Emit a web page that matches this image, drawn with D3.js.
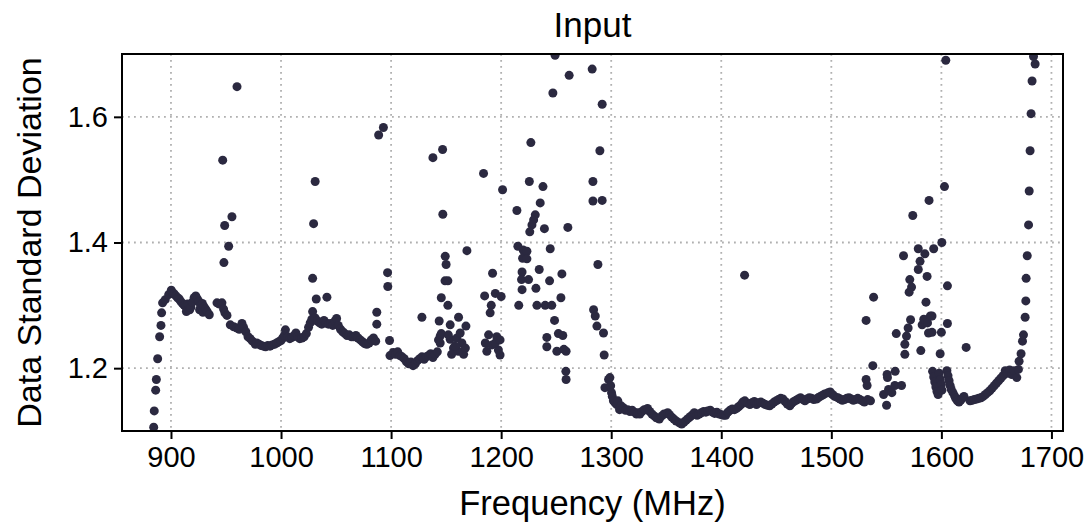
<!DOCTYPE html>
<html>
<head>
<meta charset="utf-8">
<script src="https://cdn.jsdelivr.net/npm/d3@7"></script>
<style>
  body { margin: 0; background: #fff; }
  text { font-family: "Liberation Sans", Arial, sans-serif; fill: #000; }
</style>
</head>
<body>
<script>
// [frequency MHz, data std], grouped by band
const edgeRise = [[884.3,1.106],[884.8,1.132],[886.1,1.165],[886.7,1.182],[887.9,1.215],[889.7,1.25],[890.9,1.268],[891.5,1.288],[892.4,1.304],[894.8,1.309],[897.9,1.317],[900.3,1.324]];

const plateau900 = [[901.5,1.32],[903,1.318],[904.5,1.315],[906,1.312],[907.5,1.31],[909,1.306],[910.5,1.303],[912,1.3],[913.5,1.298],[914,1.29],[915,1.302],[916.5,1.3],[917,1.293],[918,1.297],[919.5,1.305],[921,1.312],[922.5,1.315],[924,1.31],[925.5,1.306],[926,1.293],[927,1.3],[928.5,1.303],[929,1.289],[930,1.298],[931.5,1.294],[933,1.29],[934.8,1.285],
  [941.8,1.304],[944,1.302],[946.3,1.304],[947.8,1.294],[949,1.288],[950.9,1.284],[953.9,1.269],[957,1.266],[960,1.264],[962,1.262],[964.5,1.271],[966,1.265],[968,1.258],[970,1.25],[972,1.247],[974,1.243],[976.6,1.238]];

const trough1000 = [[978,1.24],[980,1.238],[982,1.236],[984,1.235],[986,1.234],[988,1.236],[990,1.235],[992,1.237],[994,1.238],[996,1.24],[998,1.242],[1000,1.244],[1001.5,1.248],[1003,1.252],[1004,1.261],[1006,1.25],[1008,1.247],[1010,1.249],[1012,1.252],[1013.5,1.256],[1015,1.25],[1017,1.247],[1019,1.248],[1021,1.25],[1023,1.255],[1025,1.265],[1026.5,1.272],[1028,1.278]];

const bump1030 = [[1028.7,1.29],[1031,1.28],[1033,1.275],[1035,1.272],[1037,1.27],[1039,1.276],[1041,1.272],[1043,1.27],[1045,1.271],[1047,1.268],[1049,1.275],[1050.5,1.279],[1052,1.268],[1054,1.262],[1056,1.258],[1058,1.255],[1060,1.252],[1062,1.253],[1064,1.25],[1066,1.25],[1068,1.252],[1070,1.248],[1072,1.245],[1074,1.242],[1076,1.239],[1078,1.238],[1080,1.24],[1082,1.245],[1084,1.248],[1086,1.243]];

const spikesLow = [[960,1.648],[947,1.531],[948.8,1.427],[955.4,1.441],[952.4,1.394],[948.1,1.368],[1031,1.497],[1029.6,1.43],[1028.7,1.343],[1032,1.31],[1041.7,1.313],[1087,1.289],[1087,1.27],[1088.7,1.571],[1093,1.583],[1096.8,1.352],[1097,1.33],[1098.6,1.244],[1099,1.22]];

const dip1120 = [[1102,1.225],[1104,1.222],[1106,1.226],[1108,1.22],[1110,1.218],[1112,1.215],[1114,1.21],[1116,1.207],[1118,1.21],[1120,1.204],[1122,1.207],[1124,1.212],[1126,1.215],[1128,1.218],[1130,1.214],[1132,1.218],[1134,1.22],[1136,1.223],[1138,1.217],[1140,1.222],[1142,1.226],[1128,1.281]];

const rfi1150 = [[1138,1.535],[1146.8,1.548],[1147,1.445],[1149.2,1.378],[1150,1.365],[1149,1.339],[1151.6,1.339],[1145.6,1.312],[1151.6,1.3],[1143.7,1.275],[1144.6,1.251],[1143.1,1.245],[1145.6,1.255],[1144.6,1.24],[1153.7,1.269],[1161.3,1.281],[1168.9,1.387],[1168,1.267],[1153.7,1.246],[1156.7,1.232],[1159.8,1.248],[1162.8,1.256],[1164.3,1.24],[1165.9,1.222],[1155,1.222],[1161,1.227],[1158,1.235],[1152,1.253],[1167.5,1.232]];

const rfi1190 = [[1184,1.51],[1185,1.315],[1192.2,1.351],[1194.7,1.319],[1200,1.314],[1191,1.3],[1190,1.288],[1201.3,1.484],[1185.6,1.24],[1187,1.227],[1188.6,1.253],[1191.7,1.237],[1196,1.25],[1197.5,1.229],[1199,1.221],[1194.7,1.24],[1199,1.245]];

const rfi1240 = [[1214.3,1.451],[1215.2,1.394],[1220,1.388],[1219.5,1.375],[1219,1.353],[1218.5,1.341],[1219,1.325],[1216,1.3],[1249,1.698],[1247,1.638],[1261.8,1.666],[1282.7,1.676],[1291.8,1.62],[1227,1.559],[1289.7,1.546],[1225.6,1.497],[1238,1.489],[1283.4,1.497],[1283.4,1.466],[1291.8,1.467],[1235.5,1.463],[1231,1.444],[1229.5,1.436],[1228,1.428],[1226,1.417],[1239.3,1.422],[1260.6,1.424],[1223.4,1.386],[1223.4,1.374],[1244.6,1.39],[1287.9,1.365],[1234.6,1.357],[1255.2,1.35],[1224.9,1.341],[1244,1.339],[1231.6,1.327],[1254.3,1.312],[1232.5,1.3],[1240,1.3],[1246,1.3],[1284,1.293],[1285.5,1.283],[1287,1.267],[1293,1.256],[1248.5,1.276],[1252,1.255],[1256,1.252],[1241.5,1.249],[1241.5,1.234],[1250.6,1.227],[1259,1.227],[1257,1.23],[1293.6,1.221],[1258.8,1.195],[1259,1.182]];

const floor1400 = [[1297.6,1.182],[1294.3,1.169],[1298.8,1.185],[1299.5,1.172],[1300.3,1.161],[1301,1.155],[1302,1.148],[1303.5,1.145],[1305,1.142],[1306,1.148],[1307.6,1.134],[1309,1.14],[1311,1.137],[1313,1.133],[1315,1.134],[1317,1.131],[1319,1.133],[1321,1.13],[1323,1.127],[1324,1.129],[1326,1.127],[1328,1.131],[1330,1.134],[1333,1.136],[1335,1.131],[1337,1.127],[1339,1.124],[1341,1.121],[1343.7,1.119],[1346,1.124],[1348,1.127],[1351.3,1.129],[1353,1.126],[1355,1.122],[1357,1.119],[1359,1.116],[1361.9,1.113],[1364,1.111],[1366,1.114],[1368,1.117],[1370,1.12],[1372,1.123],[1374,1.126],[1375.5,1.129],[1378,1.125],[1380,1.127],[1382,1.129],[1384,1.131],[1386,1.13],[1387.6,1.132],[1390,1.133],[1392,1.13],[1394,1.128],[1396,1.13],[1398.2,1.127],[1400,1.126],[1402,1.125],[1404,1.125],[1406,1.13],[1408,1.133],[1410,1.135],[1412,1.134],[1414,1.136],[1416,1.139],[1418,1.142],[1419.5,1.146],[1421.4,1.148],[1424,1.144],[1426,1.142],[1428,1.145],[1430,1.147],[1432,1.142],[1434,1.145],[1436,1.146],[1438,1.144],[1440,1.142],[1442,1.141],[1444,1.14],[1446,1.143],[1448,1.146],[1450,1.148],[1452,1.15],[1454,1.152],[1456,1.151],[1458,1.147],[1460,1.143],[1462.3,1.14],[1464,1.144],[1466,1.147],[1468,1.149],[1470,1.151],[1472,1.153],[1474.4,1.15],[1476,1.148],[1478,1.151],[1480,1.153],[1482,1.152],[1484,1.15],[1486.5,1.151],[1488,1.153],[1490,1.155],[1492,1.157],[1494,1.159],[1497,1.161],[1499,1.162],[1501,1.158],[1503,1.155],[1506,1.153],[1508,1.151],[1510,1.149],[1512,1.15],[1514,1.152],[1516,1.153],[1518,1.151],[1520,1.149],[1522,1.15],[1524,1.152],[1526,1.15],[1528,1.148],[1530,1.146],[1533,1.15],[1421.2,1.348]];

const rfi1570 = [[1531.6,1.182],[1532.5,1.1725],[1535.6,1.148],[1537.7,1.204],[1531.6,1.276],[1538.4,1.313],[1550.2,1.141],[1547.5,1.158],[1552,1.166],[1555,1.161],[1557.7,1.1725],[1563.8,1.1725],[1550.7,1.19],[1551,1.185],[1558,1.195],[1559,1.255],[1566.8,1.238],[1566.8,1.222],[1568.3,1.251],[1569.8,1.264],[1572,1.277],[1581.3,1.228],[1565.6,1.379],[1574,1.443],[1588.8,1.467],[1571.3,1.341],[1572.9,1.329],[1570.7,1.321],[1579,1.357],[1580.6,1.37],[1579,1.39],[1585,1.382],[1587,1.346],[1593,1.39],[1586,1.305],[1582.5,1.269],[1584,1.278],[1587.4,1.272],[1588.3,1.256],[1590,1.283],[1604,1.69],[1602.8,1.489],[1600.4,1.4],[1605.5,1.331],[1605.5,1.271],[1600,1.257],[1598.9,1.223],[1622.5,1.233],[1591.5,1.283],[1591.5,1.257]];

const notch1610 = [[1592,1.195],[1593,1.186],[1594,1.178],[1595,1.17],[1596,1.163],[1597,1.158],[1598,1.192],[1599,1.182],[1600,1.174],[1600.5,1.165],[1605,1.196],[1606,1.188],[1607,1.18],[1608,1.172],[1609,1.166],[1610.5,1.161],[1612,1.156],[1613,1.152],[1614.5,1.148],[1616,1.146],[1617.5,1.149],[1619,1.152],[1620.5,1.155]];

const rise1680 = [[1626,1.148],[1628,1.149],[1630,1.15],[1632,1.151],[1634,1.152],[1636,1.153],[1638,1.155],[1640,1.158],[1642,1.161],[1644,1.164],[1646,1.168],[1648,1.172],[1650,1.176],[1652,1.18],[1654,1.184],[1656,1.188],[1658,1.196],[1660,1.192],[1662,1.197],[1664,1.19],[1666,1.196],[1668.5,1.185],[1670,1.198],[1670.6,1.211],[1672.4,1.223],[1673.7,1.243],[1674.6,1.253],[1676.1,1.281],[1676.7,1.307],[1677,1.343],[1678,1.379],[1679.2,1.428],[1679.8,1.482],[1680.6,1.546],[1681.5,1.605],[1682.4,1.657],[1685.2,1.684],[1683.7,1.696]];

const xTicks = [900, 1000, 1100, 1200, 1300, 1400, 1500, 1600, 1700];
const yTicks = [1.2, 1.4, 1.6];

const points = [].concat(edgeRise, plateau900, trough1000, bump1030, spikesLow, dip1120,
  rfi1150, rfi1190, rfi1240, floor1400, rfi1570, notch1610, rise1680);

const W = 1089, H = 528;
const plotL = 122, plotR = 1063, plotT = 54, plotB = 431;

const svg = d3.select('body').append('svg')
  .attr('width', W)
  .attr('height', H);

const x = d3.scaleLinear().domain([855.5, 1710.5]).range([plotL, plotR]);
const y = d3.scaleLinear().domain([1.1, 1.7]).range([plotB, plotT]);

svg.append('defs').append('clipPath').attr('id', 'plotclip')
  .append('rect')
  .attr('x', plotL).attr('y', plotT)
  .attr('width', plotR - plotL).attr('height', plotB - plotT);

// dotted grid
const grid = svg.append('g')
  .attr('stroke', '#b0b0b0')
  .attr('stroke-width', 1.8)
  .attr('stroke-dasharray', '1.8,4.2');
grid.selectAll('line.vx')
  .data(xTicks)
  .enter().append('line')
  .attr('x1', d => x(d)).attr('x2', d => x(d))
  .attr('y1', plotT).attr('y2', plotB);
grid.selectAll('line.hy')
  .data(yTicks)
  .enter().append('line')
  .attr('x1', plotL).attr('x2', plotR)
  .attr('y1', d => y(d)).attr('y2', d => y(d));

// scatter
svg.append('g')
  .attr('clip-path', 'url(#plotclip)')
  .selectAll('circle')
  .data(points)
  .enter().append('circle')
  .attr('cx', d => x(d[0]))
  .attr('cy', d => y(d[1]))
  .attr('r', 4.5)
  .attr('fill', '#2b2940');

// axes
const xAxis = svg.append('g')
  .attr('transform', 'translate(0,' + plotB + ')')
  .call(d3.axisBottom(x).tickValues(xTicks).tickSize(8).tickPadding(7).tickFormat(d3.format('d')));
const yAxis = svg.append('g')
  .attr('transform', 'translate(' + plotL + ',0)')
  .call(d3.axisLeft(y).tickValues(yTicks).tickSize(8).tickPadding(6).tickFormat(d3.format('.1f')));

[xAxis, yAxis].forEach(a => {
  a.select('.domain').remove();
  a.selectAll('.tick line').attr('stroke', '#000').attr('stroke-width', 2);
  a.selectAll('.tick text')
    .attr('font-size', 29)
    .attr('font-family', '"Liberation Sans", Arial, sans-serif')
    .attr('fill', '#000');
});

// frame
svg.append('rect')
  .attr('x', plotL).attr('y', plotT)
  .attr('width', plotR - plotL).attr('height', plotB - plotT)
  .attr('fill', 'none')
  .attr('stroke', '#000')
  .attr('stroke-width', 2);

svg.append('text')
  .attr('x', (plotL + plotR) / 2).attr('y', 37)
  .attr('text-anchor', 'middle')
  .attr('font-size', 35)
  .text('Input');

svg.append('text')
  .attr('x', (plotL + plotR) / 2).attr('y', 515)
  .attr('text-anchor', 'middle')
  .attr('font-size', 34.5)
  .text('Frequency (MHz)');

svg.append('text')
  .attr('transform', 'translate(41,' + (plotT + plotB) / 2 + ') rotate(-90)')
  .attr('text-anchor', 'middle')
  .attr('font-size', 34)
  .text('Data Standard Deviation');
</script>
</body>
</html>
